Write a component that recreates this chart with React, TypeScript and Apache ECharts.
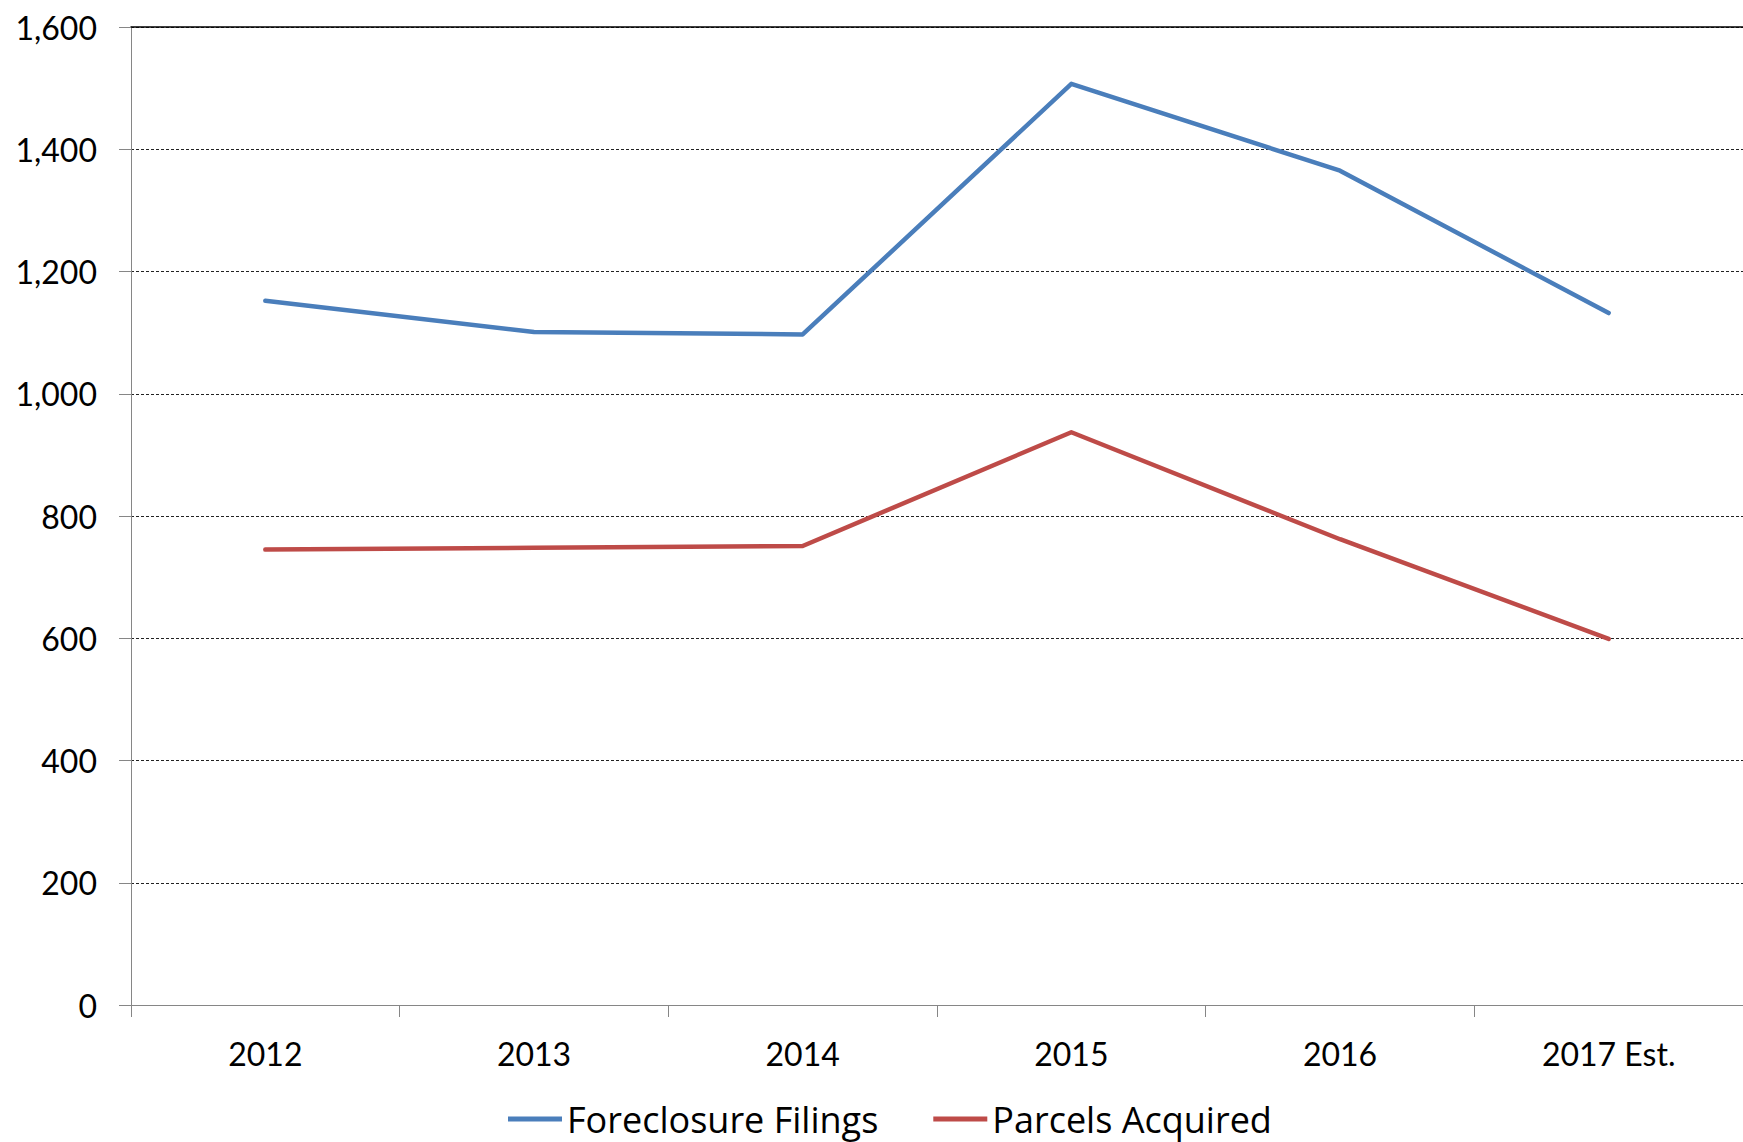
import React, { useEffect, useRef } from "react";
import * as echarts from "echarts";

const categories = ["2012", "2013", "2014", "2015", "2016", "2017 Est."];
const foreclosureFilings = [1152, 1101, 1097, 1507, 1365, 1132];
const parcelsAcquired = [745, 748, 751, 937, 762, 599];
const yTicks = { min: 0, max: 1600, interval: 200 };

const FONT = "Lato";

export default function App() {
  const ref = useRef<HTMLDivElement>(null);
  useEffect(() => {
    if (!ref.current) return;
    const chart = echarts.init(ref.current, undefined, { renderer: "svg" });
    chart.setOption({
      animation: false,
      backgroundColor: "#ffffff",
      textStyle: { fontFamily: FONT },
      grid: { left: 131, top: 27, right: 0, bottom: 137, containLabel: false },
      legend: {
        left: 503,
        top: 1096,
        icon: "rect",
        itemWidth: 54,
        itemHeight: 5,
        itemGap: 55,
        textStyle: { fontFamily: "Open Sans", fontSize: 36, color: "#000" },
        data: ["Foreclosure Filings", "Parcels Acquired"],
      },
      xAxis: [
        {
          type: "category",
          data: categories,
          boundaryGap: true,
          axisLine: { lineStyle: { color: "#868686", width: 1 } },
          axisTick: { show: true, length: 12, alignWithLabel: false, lineStyle: { color: "#868686" } },
          axisLabel: { fontFamily: FONT, fontSize: 32, color: "#000", margin: 32 },
          splitLine: { show: false },
        },
        {
          type: "category",
          data: categories,
          position: "top",
          axisLine: { lineStyle: { color: "#000", width: 1.5 } },
          axisTick: { show: false },
          axisLabel: { show: false },
          splitLine: { show: false },
        },
      ],
      yAxis: {
        type: "value",
        min: yTicks.min,
        max: yTicks.max,
        interval: yTicks.interval,
        axisLine: { show: true, lineStyle: { color: "#868686", width: 1 } },
        axisTick: { show: true, length: 12, lineStyle: { color: "#868686" } },
        axisLabel: {
          fontFamily: FONT,
          fontSize: 32,
          color: "#000",
          margin: 34,
          formatter: (v: number) => v.toLocaleString("en-US"),
        },
        splitLine: { show: true, lineStyle: { color: "#222", width: 1, type: [3, 2] } },
      },
      series: [
        {
          name: "Foreclosure Filings",
          type: "line",
          data: foreclosureFilings,
          symbol: "none",
          color: "#4A7EBB",
          lineStyle: { color: "#4A7EBB", width: 4.5, cap: "round", join: "round" },
        },
        {
          name: "Parcels Acquired",
          type: "line",
          data: parcelsAcquired,
          symbol: "none",
          color: "#BE4B48",
          lineStyle: { color: "#BE4B48", width: 4.5, cap: "round", join: "round" },
        },
      ],
    });
    return () => chart.dispose();
  }, []);
  return (
    <div
      ref={ref}
      style={{ position: "fixed", left: 0, top: 0, width: 1743, height: 1142 }}
    />
  );
}
